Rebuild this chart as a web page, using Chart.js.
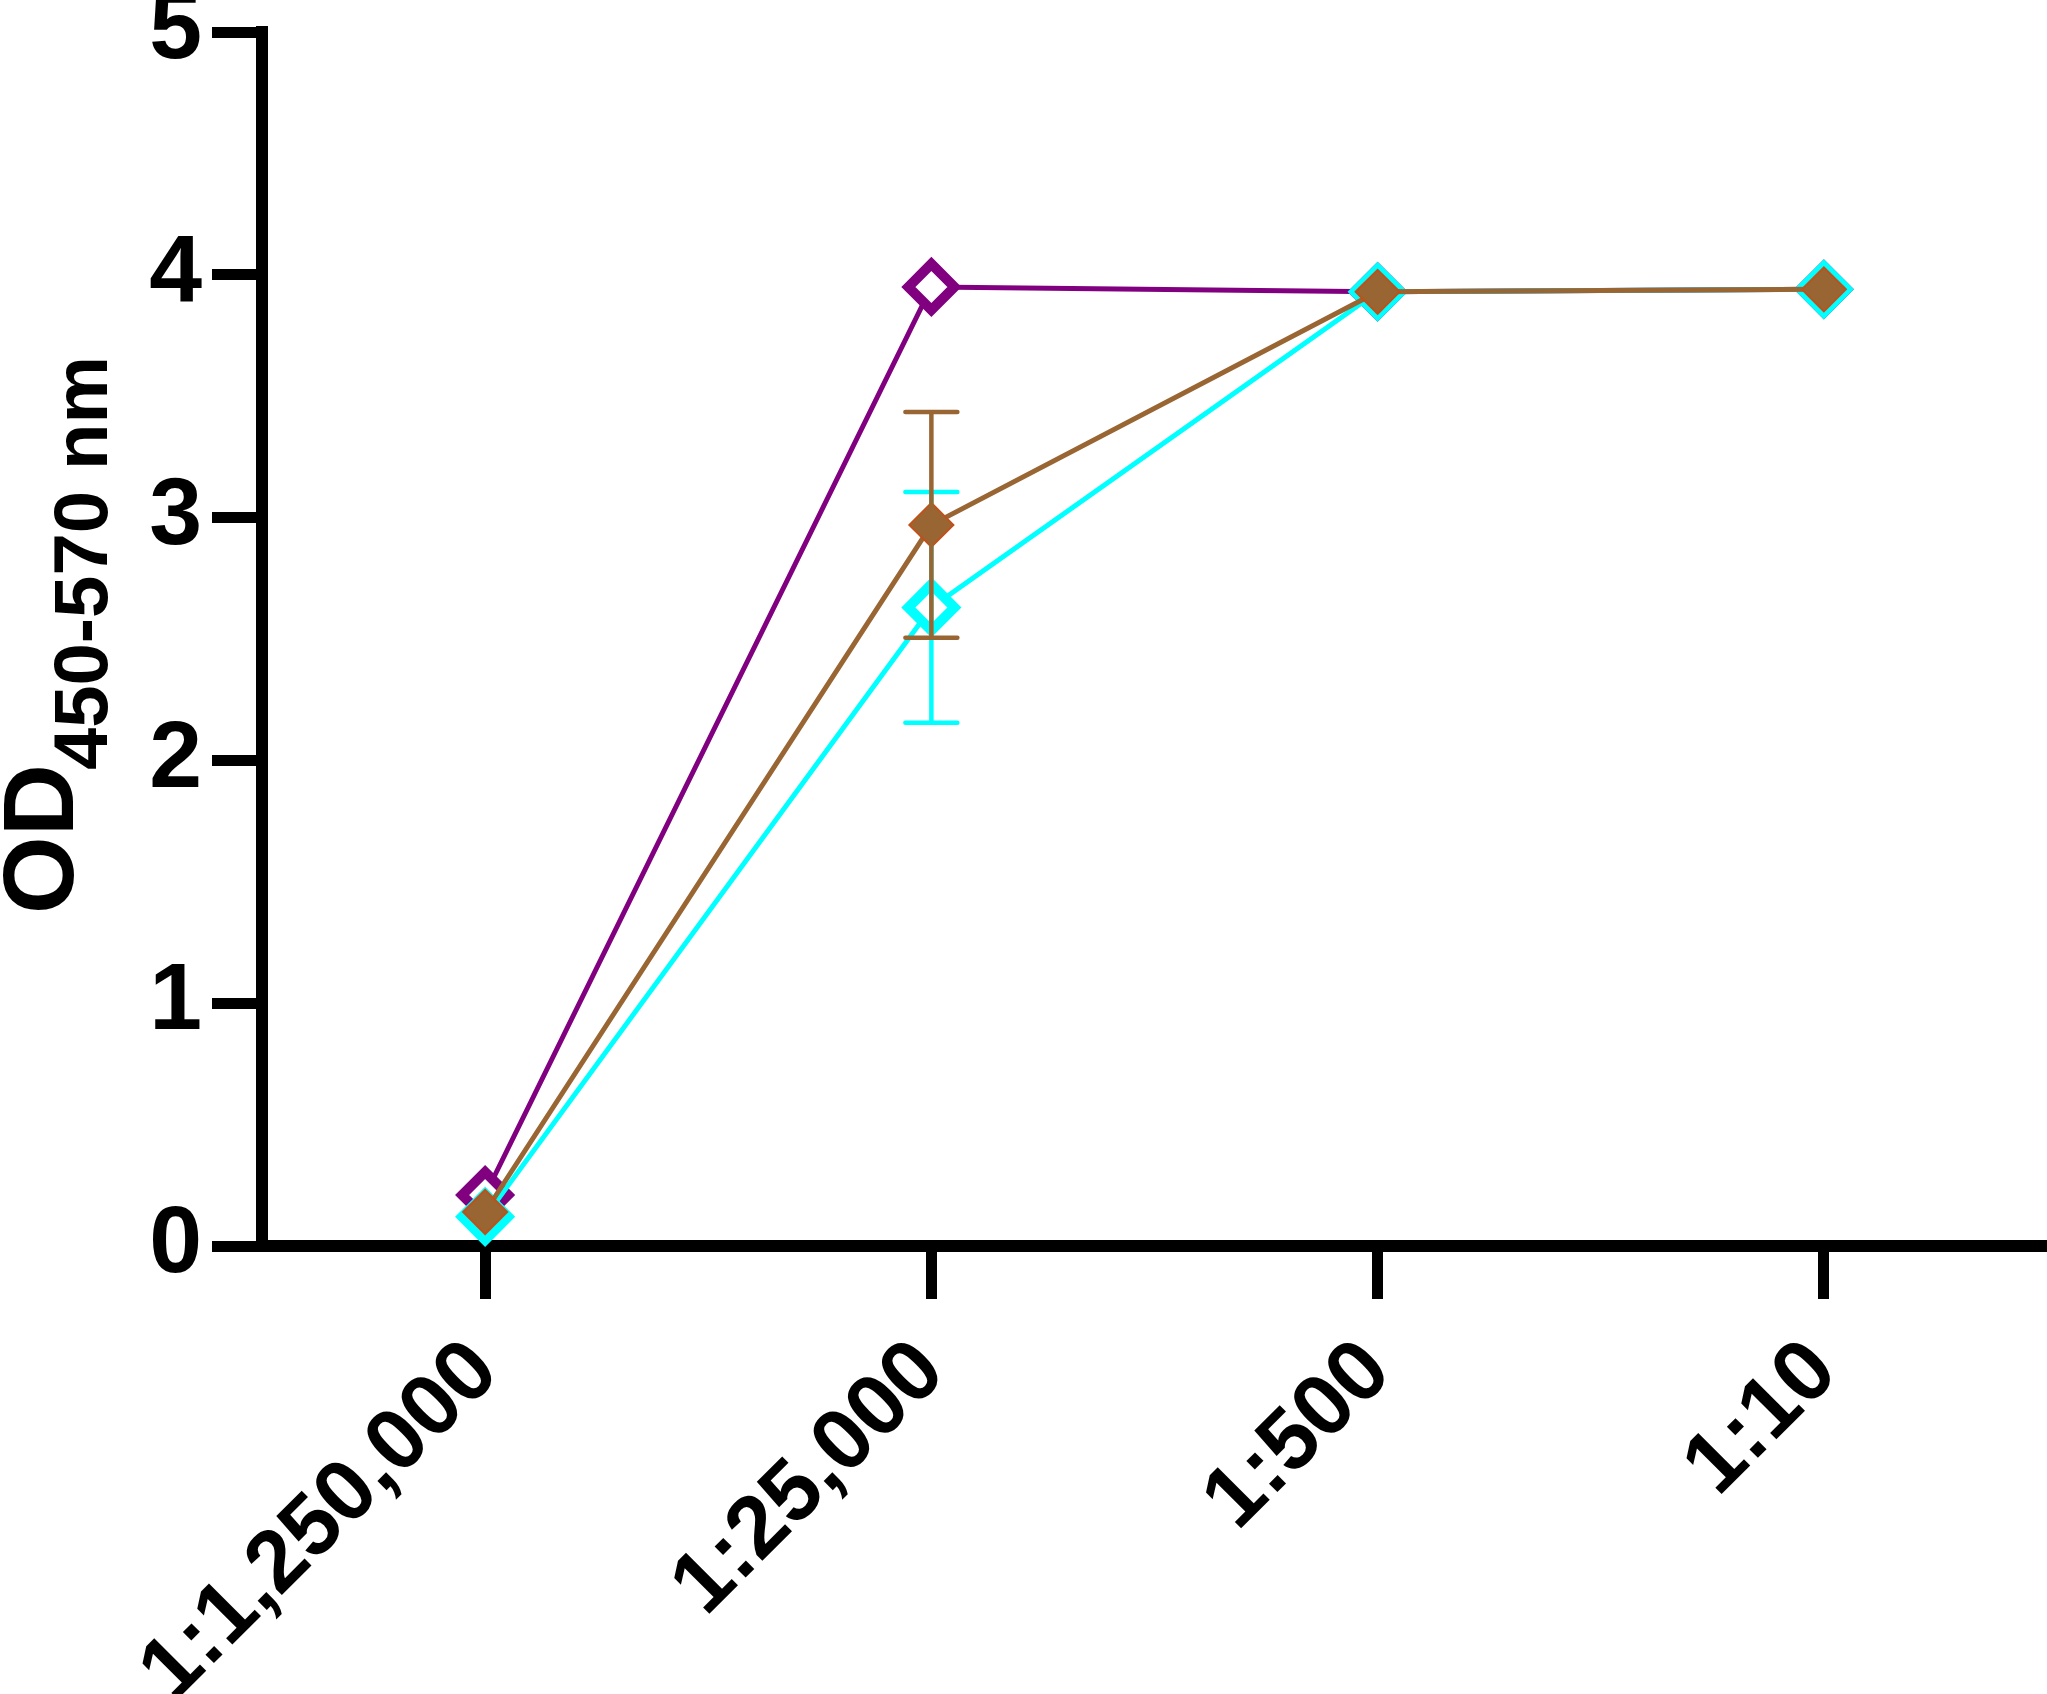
<!DOCTYPE html>
<html>
<head>
<meta charset="utf-8">
<script src="https://cdn.jsdelivr.net/npm/chart.js@4/dist/chart.umd.min.js"></script>
<style>
  html, body { margin: 0; padding: 0; background: #fff; }
  canvas { display: block; }
</style>
</head>
<body>
<canvas id="c" width="2047" height="1694"></canvas>
<script>
// ---- data ----
const categories = ['1:1,250,000', '1:25,000', '1:500', '1:10'];
const purpleValues = [0.21, 3.95, 3.93, 3.94];
const cyanValues   = [0.12, 2.63, 3.93, 3.94];
const brownValues  = [0.14, 2.97, 3.93, 3.94];
const purpleErr = [0, 0, 0, 0];
const cyanErr   = [0, 0.475, 0, 0];
const brownErr  = [0, 0.465, 0, 0];
const yTicks = [0, 1, 2, 3, 4, 5];
const yTitleMain = 'OD';
const yTitleSub = '450-570 nm';

const FONT = '"Liberation Sans", Arial, Helvetica, sans-serif';

const errorBarPlugin = {
  id: 'errorBars',
  afterDatasetDraw(chart, args) {
    const ds = chart.data.datasets[args.index];
    if (!ds.errors) return;
    const meta = args.meta;
    const y = chart.scales.y;
    const ctx = chart.ctx;
    ctx.save();
    ctx.strokeStyle = ds.borderColor;
    ctx.lineWidth = 4.5;
    ctx.lineCap = 'round';
    meta.data.forEach((pt, i) => {
      const e = ds.errors[i];
      if (!e) return;
      const v = ds.data[i];
      const yTop = y.getPixelForValue(v + e);
      const yBot = y.getPixelForValue(v - e);
      const x = pt.x;
      const half = 26;
      ctx.beginPath();
      ctx.moveTo(x, yTop); ctx.lineTo(x, yBot);
      ctx.moveTo(x - half, yTop); ctx.lineTo(x + half, yTop);
      ctx.moveTo(x - half, yBot); ctx.lineTo(x + half, yBot);
      ctx.stroke();
    });
    ctx.restore();
  }
};

const yTitlePlugin = {
  id: 'yTitle',
  afterDraw(chart) {
    const ctx = chart.ctx;
    ctx.save();
    ctx.translate(73, 914);
    ctx.rotate(-Math.PI / 2);
    ctx.fillStyle = '#000';
    ctx.textAlign = 'left';
    ctx.textBaseline = 'alphabetic';
    ctx.font = 'bold 100px ' + FONT;
    ctx.fillText(yTitleMain, 0, 0);
    const w = ctx.measureText(yTitleMain).width;
    ctx.font = 'bold 76px ' + FONT;
    ctx.fillText(yTitleSub, w - 6, 34);
    ctx.restore();
  }
};

function zeroPad(s) {
  s.paddingTop = 0; s.paddingBottom = 0; s.paddingLeft = 0; s.paddingRight = 0;
}

new Chart(document.getElementById('c'), {
  type: 'line',
  data: {
    labels: categories,
    datasets: [
      {
        label: 'Purple',
        data: purpleValues,
        errors: purpleErr,
        borderColor: '#800080',
        backgroundColor: '#ffffff',
        borderWidth: 5,
        pointStyle: 'rectRot',
        pointRadius: 23,
        pointBorderWidth: 10,
        pointBorderColor: '#800080',
        pointBackgroundColor: '#ffffff',
        tension: 0,
        order: 2,
        clip: false
      },
      {
        label: 'Cyan',
        data: cyanValues,
        errors: cyanErr,
        borderColor: '#00ffff',
        backgroundColor: '#ffffff',
        borderWidth: 5,
        pointStyle: 'rectRot',
        pointRadius: 23,
        pointBorderWidth: 10,
        pointBorderColor: '#00ffff',
        pointBackgroundColor: '#ffffff',
        tension: 0,
        order: 1,
        clip: false
      },
      {
        label: 'Brown',
        data: brownValues,
        errors: brownErr,
        borderColor: '#996633',
        backgroundColor: '#996633',
        borderWidth: 5,
        pointStyle: 'rectRot',
        pointRadius: 22,
        pointBorderWidth: 2,
        pointBorderColor: '#c0501a',
        pointBackgroundColor: '#996633',
        tension: 0,
        order: 0,
        clip: false
      }
    ]
  },
  options: {
    responsive: false,
    animation: false,
    devicePixelRatio: 1,
    layout: { autoPadding: false, padding: { top: 32, right: 0, bottom: 0, left: 0 } },
    plugins: {
      legend: { display: false },
      tooltip: { enabled: false },
      title: { display: false }
    },
    scales: {
      x: {
        type: 'category',
        offset: true,
        border: { display: true, color: '#000', width: 12 },
        grid: {
          display: true,
          drawOnChartArea: false,
          drawTicks: true,
          tickLength: 53,
          tickWidth: 11,
          tickColor: '#000',
          offset: false
        },
        ticks: {
          color: '#000',
          font: { family: FONT, size: 87, weight: 'bold' },
          minRotation: 45,
          maxRotation: 45,
          padding: 22,
          autoSkip: false
        },
        afterFit(s) { s.height = 448; zeroPad(s); }
      },
      y: {
        type: 'linear',
        min: 0,
        max: 5,
        afterBuildTicks(s) { s.ticks = yTicks.map(v => ({ value: v })); },
        border: { display: true, color: '#000', width: 12 },
        grid: {
          display: true,
          drawOnChartArea: false,
          drawTicks: true,
          tickLength: 50,
          tickWidth: 11,
          tickColor: '#000'
        },
        ticks: {
          color: '#000',
          font: { family: FONT, size: 95, weight: 'bold' },
          padding: 10
        },
        afterFit(s) { s.width = 262; zeroPad(s); }
      }
    }
  },
  plugins: [errorBarPlugin, yTitlePlugin]
});
</script>
</body>
</html>
